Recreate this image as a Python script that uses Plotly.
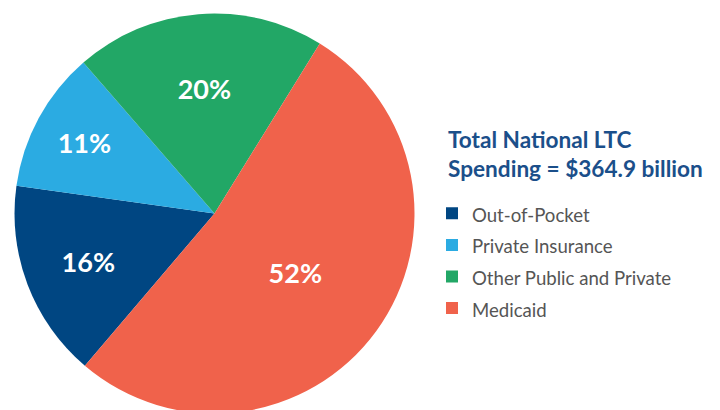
import plotly.graph_objects as go

categories = ["Out-of-Pocket", "Private Insurance", "Other Public and Private", "Medicaid"]
shares = [16.0, 11.4, 20.2, 52.4]
colors = ["#004682", "#2BABE2", "#22A766", "#F0624B"]
title_lines = ["Total National LTC", "Spending = $364.9 billion"]

fig = go.Figure()
fig.add_trace(go.Pie(
    labels=["<span style='font-size:18.6px'>%s</span>" % c for c in categories],
    values=shares,
    marker=dict(colors=colors, line=dict(width=0)),
    sort=False,
    direction="clockwise",
    rotation=220.4,
    texttemplate="%{percent:.0%}",
    textposition="inside",
    insidetextorientation="horizontal",
    textfont=dict(family="Lato", size=27, color="white", weight="bold"),
    hoverinfo="label+percent",
    domain=dict(x=[6.5/720, 406.5/720], y=[4.5/410, 404.5/410]),
))

fig.add_annotation(
    text="<br>".join(title_lines),
    xref="paper", yref="paper", x=438/720, y=1-116/410,
    xanchor="left", yanchor="top", align="left", showarrow=False,
    font=dict(family="Lato", size=22.6, color="#1B4F8A", weight="bold"),
)

fig.update_layout(
    width=720, height=410,
    margin=dict(l=0, r=0, t=0, b=0),
    paper_bgcolor="white",
    showlegend=True,
    legend=dict(
        x=424/720, y=1-184.5/410, xanchor="left", yanchor="top",
        font=dict(family="Lato", size=22, color="#555555"),
        traceorder="normal",
        itemclick=False,
    ),
)
fig.write_html("out.html")
